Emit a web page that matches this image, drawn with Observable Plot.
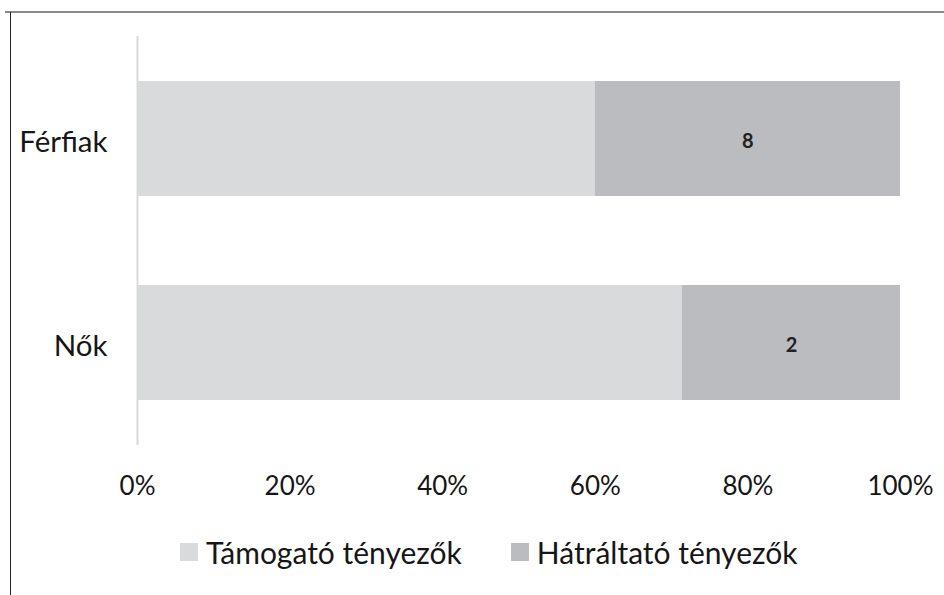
<!DOCTYPE html>
<html>
<head>
<meta charset="utf-8">
<script src="https://cdn.jsdelivr.net/npm/d3@7"></script>
<script src="https://cdn.jsdelivr.net/npm/@observablehq/plot@0.6"></script>
<style>
  html, body { margin: 0; padding: 0; background: #fff; }
  #wrap { position: relative; width: 944px; height: 595px; overflow: hidden; font-family: Lato, "Open Sans", sans-serif; }
  #frameTop { position: absolute; left: 5px; top: 11px; width: 939px; height: 2px; background: #8a8a8a; }
  #frameLeft { position: absolute; left: 10px; top: 12px; width: 1px; height: 583px; background: #222; }
  #chart { position: absolute; left: 0; top: 0; }
  #legend { position: absolute; top: 534px; left: 180px; display: flex; align-items: center; font-size: 30px; color: #161616; line-height: 36px; }
  .item { display: flex; align-items: center; margin-right: 49px; }
  .sw { width: 18px; height: 18px; margin-right: 8px; }
</style>
</head>
<body>
<div id="wrap">
  <div id="frameTop"></div>
  <div id="frameLeft"></div>
  <div id="chart"></div>
  <div id="legend"></div>
</div>
<script>
const groups = ["Férfiak", "Nők"];
const factors = ["Támogató tényezők", "Hátráltató tényezők"];
const supportive = [12, 5];
const hindering = [8, 2];
const colors = ["#d9dadb", "#bbbcbf"];
const xTicks = [0, 0.2, 0.4, 0.6, 0.8, 1];

const data = [];
groups.forEach((g, i) => {
  data.push({group: g, factor: factors[0], value: supportive[i]});
  data.push({group: g, factor: factors[1], value: hindering[i]});
});

const pct = d => Math.round(d * 100) + "%";

const chart = Plot.plot({
  width: 944,
  height: 520,
  marginLeft: 137,
  marginRight: 44,
  marginTop: 36,
  marginBottom: 75,
  style: {fontFamily: "Lato, 'Open Sans', sans-serif", background: "transparent", color: "#161616"},
  x: {domain: [0, 1], ticks: xTicks, tickFormat: pct, label: null},
  y: {domain: groups, paddingInner: 0.434, paddingOuter: 0.217, label: null},
  color: {domain: factors, range: colors},
  marks: [
    Plot.ruleX([0], {stroke: "#d9d9d9", strokeWidth: 2}),
    Plot.barX(data, Plot.stackX({x: "value", y: "group", fill: "factor", offset: "normalize", order: null})),
    Plot.text(data, Plot.stackX({
      x: "value", y: "group", z: "factor", offset: "normalize", order: null,
      text: d => d.factor === factors[1] ? String(d.value) : "",
      fontSize: 20, fontWeight: 700, fill: "#222", dy: 3
    })),
    Plot.axisX({ticks: xTicks, tickFormat: pct, tickSize: 0, tickPadding: 31, fontSize: 26, label: null}),
    Plot.axisY({tickSize: 0, tickPadding: 30, fontSize: 29.5, dy: 4, label: null})
  ]
});
document.getElementById("chart").appendChild(chart);

const legend = document.getElementById("legend");
factors.forEach((f, i) => {
  const item = document.createElement("div");
  item.className = "item";
  const sw = document.createElement("span");
  sw.className = "sw";
  sw.style.background = colors[i];
  const t = document.createElement("span");
  t.textContent = f;
  item.appendChild(sw);
  item.appendChild(t);
  legend.appendChild(item);
});
</script>
</body>
</html>
